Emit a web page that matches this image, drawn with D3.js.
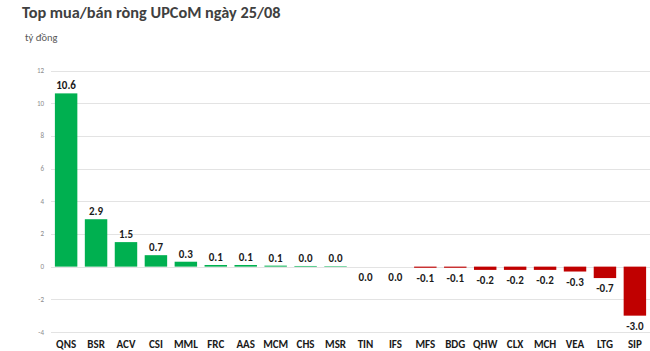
<!DOCTYPE html>
<html>
<head>
<meta charset="utf-8">
<script src="https://cdn.jsdelivr.net/npm/d3@7"></script>
<style>
  body { margin: 0; background: #fff; }
  svg { font-family: Carlito, Calibri, "Open Sans", "Noto Sans", sans-serif; }
</style>
</head>
<body>
<script>
// tickers and net values (ty dong)
const tickers = ["QNS", "BSR", "ACV", "CSI", "MML", "FRC", "AAS", "MCM", "CHS", "MSR",
                 "TIN", "IFS", "MFS", "BDG", "QHW", "CLX", "MCH", "VEA", "LTG", "SIP"];
const values = [10.6, 2.9, 1.5, 0.7, 0.3, 0.1, 0.1, 0.06, 0.04, 0.03,
                0, 0, -0.07, -0.07, -0.2, -0.2, -0.2, -0.3, -0.7, -3.0];
const yTicks = [-4, -2, 0, 2, 4, 6, 8, 10, 12];

const width = 650, height = 351;
const margin = {top: 70, right: 0, bottom: 19, left: 51};

const data = tickers.map((t, i) => ({name: t, value: values[i]}));

const svg = d3.select('body').append('svg')
  .attr('width', width)
  .attr('height', height);

const x = d3.scaleBand()
  .domain(tickers)
  .range([margin.left, width - margin.right])
  .paddingInner(0.25)
  .paddingOuter(0.13);

const y = d3.scaleLinear()
  .domain([-4, 12])
  .range([332, 70.5]);

// gridlines
svg.append('g')
  .selectAll('line')
  .data(yTicks)
  .join('line')
    .attr('x1', margin.left)
    .attr('x2', width)
    .attr('y1', d => Math.round(y(d)) + 0.5)
    .attr('y2', d => Math.round(y(d)) + 0.5)
    .attr('stroke', '#e3e3e3')
    .attr('stroke-width', 1);

// y tick labels
svg.append('g')
  .selectAll('text')
  .data(yTicks)
  .join('text')
    .attr('x', 44)
    .attr('y', d => y(d) + 2.5)
    .attr('text-anchor', 'end')
    .attr('font-size', 7)
    .attr('fill', '#8c8c8c')
    .text(d => d);

// bars
svg.append('g')
  .selectAll('rect')
  .data(data)
  .join('rect')
    .attr('x', d => x(d.name))
    .attr('width', x.bandwidth())
    .attr('y', d => y(Math.max(0, d.value)))
    .attr('height', d => Math.abs(y(d.value) - y(0)))
    .attr('fill', d => d.value >= 0 ? '#00b050' : '#c00000');

// value labels
const fmt = v => (Math.abs(v) < 0.05 ? 0 : v).toFixed(1);
svg.append('g')
  .selectAll('text')
  .data(data)
  .join('text')
    .attr('x', d => x(d.name) + x.bandwidth() / 2)
    .attr('y', d => d.value > 0 ? y(d.value) - 4 : y(d.value) + 14)
    .attr('text-anchor', 'middle')
    .attr('font-size', 11)
    .attr('font-weight', 'bold')
    .attr('fill', '#1a1a1a')
    .text(d => fmt(d.value));

// category labels
svg.append('g')
  .selectAll('text')
  .data(tickers)
  .join('text')
    .attr('x', d => x(d) + x.bandwidth() / 2)
    .attr('y', 348)
    .attr('text-anchor', 'middle')
    .attr('font-size', 11)
    .attr('font-weight', 'bold')
    .attr('fill', '#1a1a1a')
    .text(d => d);

// title + unit
svg.append('text')
  .attr('x', 22)
  .attr('y', 18)
  .attr('font-size', 16.3)
  .attr('font-weight', 'bold')
  .attr('fill', '#404040')
  .text('Top mua/bán ròng UPCoM ngày 25/08');

svg.append('text')
  .attr('x', 25)
  .attr('y', 41)
  .attr('font-size', 10.5)
  .attr('fill', '#595959')
  .text('tỷ đồng');
</script>
</body>
</html>
